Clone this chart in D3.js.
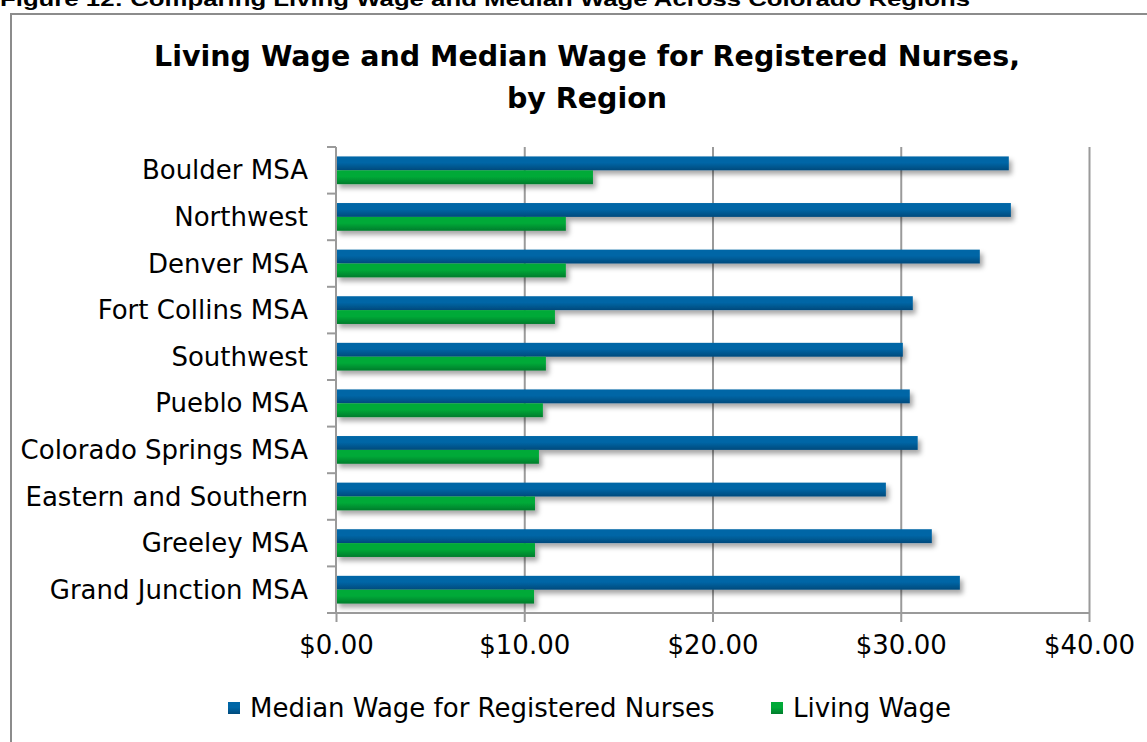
<!DOCTYPE html>
<html>
<head>
<meta charset="utf-8">
<title>Living Wage and Median Wage for Registered Nurses</title>
<script src="https://cdn.jsdelivr.net/npm/d3@7"></script>
<style>
    body { margin: 0; background: #fff; overflow: hidden; }
    text { font-family: 'DejaVu Sans', Tahoma, sans-serif; fill: #000; }
    .caption { font-family: 'Liberation Sans', Arial, sans-serif; font-weight: bold; }
</style>
</head>
<body>
<svg id="svg" width="1147" height="742"></svg>
<script>

var regions = ['Boulder MSA', 'Northwest', 'Denver MSA', 'Fort Collins MSA', 'Southwest',
    'Pueblo MSA', 'Colorado Springs MSA', 'Eastern and Southern', 'Greeley MSA', 'Grand Junction MSA'];
var median_wage = [35.74, 35.85, 34.20, 30.64, 30.11, 30.48, 30.90, 29.21, 31.65, 33.14];
var living_wage = [13.65, 12.21, 12.21, 11.63, 11.15, 10.99, 10.78, 10.57, 10.57, 10.52];
var series = ['Median Wage for Registered Nurses', 'Living Wage'];
var x_ticks = [0, 10, 20, 30, 40];

var colors = {
    'Median Wage for Registered Nurses': ['#0066a6', '#004a7c'],
    'Living Wage': ['#00aa38', '#007c2c']
};

var svg = d3.select('#svg');
var defs = svg.append('defs');

// bar gradients, lighter on top like the Excel bevel
series.forEach(function(s, i){
    var g = defs.append('linearGradient')
        .attr('id', 'grad' + i)
        .attr('x1', 0).attr('y1', 0).attr('x2', 0).attr('y2', 1);
    g.append('stop').attr('offset', '0%').attr('stop-color', colors[s][0]);
    g.append('stop').attr('offset', '45%').attr('stop-color', colors[s][0]);
    g.append('stop').attr('offset', '100%').attr('stop-color', colors[s][1]);
});
defs.append('filter').attr('id', 'shadow')
    .attr('x', '-5%').attr('y', '-50%').attr('width', '115%').attr('height', '250%')
    .append('feDropShadow')
    .attr('dx', 3).attr('dy', 4).attr('stdDeviation', 2.5)
    .attr('flood-color', '#000').attr('flood-opacity', 0.35);

// figure caption, cut off at the top of the page
svg.append('text')
    .attr('class', 'caption')
    .attr('x', 0).attr('y', 6)
    .attr('textLength', 970).attr('lengthAdjust', 'spacingAndGlyphs')
    .style('font-size', '20px')
    .text('Figure 12: Comparing Living Wage and Median Wage Across Colorado Regions');

// chart frame
svg.append('rect')
    .attr('x', 11).attr('y', 14)
    .attr('width', 1160).attr('height', 760)
    .attr('fill', '#fff')
    .attr('stroke', '#8c8c8c').attr('stroke-width', 2);

// title
var title = svg.append('text')
    .attr('text-anchor', 'middle')
    .style('font-size', '28.5px').style('font-weight', 'bold');
title.append('tspan').attr('x', 587).attr('y', 66)
    .text('Living Wage and Median Wage for Registered Nurses,');
title.append('tspan').attr('x', 587).attr('y', 108)
    .text('by Region');

var plot = { left: 336, right: 1089, top: 147, bottom: 613 };

var x = d3.scaleLinear().domain([0, 40]).range([plot.left, plot.right]);
var y0 = d3.scaleBand().domain(regions).range([plot.top, plot.bottom]);
var y1 = d3.scaleBand().domain(series).range([0, y0.bandwidth()]).paddingOuter(0.68);

var grid_color = '#9a9a9a';
var font_size = '26px';

// vertical gridlines
svg.append('g')
    .attr('transform', 'translate(0,' + plot.bottom + ')')
    .call(d3.axisBottom(x).tickValues(x_ticks.slice(1)).tickSize(-(plot.bottom - plot.top)).tickFormat(''))
    .call(function(g){
        g.select('.domain').remove();
        g.selectAll('line').attr('stroke', grid_color).attr('stroke-width', 2);
    });

// bars
var rows = regions.map(function(r, i){
    return { region: r, values: [median_wage[i], living_wage[i]] };
});

var row = svg.append('g').selectAll('g.row').data(rows).enter().append('g')
    .attr('class', 'row')
    .attr('transform', function(d){ return 'translate(0,' + y0(d.region) + ')'; });

row.selectAll('rect').data(function(d){
        return d.values.map(function(v, i){ return { s: series[i], i: i, v: v }; });
    })
    .enter().append('rect')
    .attr('x', x(0))
    .attr('y', function(d){ return y1(d.s); })
    .attr('width', function(d){ return x(d.v) - x(0); })
    .attr('height', y1.bandwidth())
    .attr('fill', function(d){ return 'url(#grad' + d.i + ')'; })
    .attr('filter', 'url(#shadow)');

// x axis
svg.append('g')
    .attr('transform', 'translate(0,' + plot.bottom + ')')
    .call(d3.axisBottom(x).tickValues(x_ticks).tickSize(9).tickPadding(14)
        .tickFormat(function(d){ return '$' + d3.format('.2f')(d); }))
    .call(function(g){
        g.select('.domain').attr('stroke', grid_color).attr('stroke-width', 2)
            .attr('d', 'M' + (plot.left - 9) + ',0H' + plot.right);
        g.selectAll('line').attr('stroke', grid_color).attr('stroke-width', 2);
        g.selectAll('text').attr('font-family', null).style('font-size', font_size).attr('fill', '#000');
    });

// y axis with category ticks between bands
var y_axis = svg.append('g');
y_axis.append('line')
    .attr('x1', plot.left).attr('x2', plot.left)
    .attr('y1', plot.top).attr('y2', plot.bottom)
    .attr('stroke', grid_color).attr('stroke-width', 2);
y_axis.selectAll('line.tick').data(regions.concat([null])).enter().append('line')
    .attr('class', 'tick')
    .attr('x1', plot.left - 9).attr('x2', plot.left)
    .attr('y1', function(d){ return d === null ? plot.bottom : y0(d); })
    .attr('y2', function(d){ return d === null ? plot.bottom : y0(d); })
    .attr('stroke', grid_color).attr('stroke-width', 2);
y_axis.selectAll('text').data(regions).enter().append('text')
    .attr('x', 308)
    .attr('y', function(d){ return y0(d) + y0.bandwidth() / 2; })
    .attr('dy', '0.35em')
    .attr('text-anchor', 'end')
    .style('font-size', font_size)
    .text(function(d){ return d; });

// legend
var legend_x = [228, 771];
var legend = svg.append('g').selectAll('g').data(series).enter().append('g')
    .attr('transform', function(d, i){ return 'translate(' + legend_x[i] + ',708)'; });
legend.append('rect')
    .attr('x', 0).attr('y', -6).attr('width', 12).attr('height', 12)
    .attr('fill', function(d, i){ return 'url(#grad' + i + ')'; });
legend.append('text')
    .attr('x', 22).attr('dy', '0.35em')
    .style('font-size', font_size)
    .text(function(d){ return d; });

</script>
</body>
</html>
